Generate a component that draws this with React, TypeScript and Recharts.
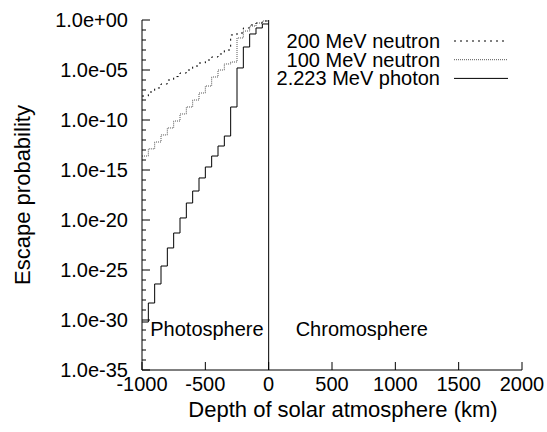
import { LineChart, Line, XAxis, YAxis, ReferenceLine, Legend } from "recharts"

// bin edges (km), 50 km bins; the last edge repeats the last bin value for the step line
const DEPTH = [
  -1000, -950, -900, -850, -800, -750, -700, -650, -600, -550,
  -500, -450, -400, -350, -300, -250, -200, -150, -100, -50, 0,
]

const NEUTRON_200 = [
  2.5e-8, 6.3e-8, 1.6e-7, 4.0e-7, 1.0e-6, 2.2e-6, 5.0e-6, 1.0e-5, 2.5e-5, 5.0e-5,
  1.0e-4, 2.0e-4, 4.0e-4, 1.0e-3, 3.2e-2, 5.0e-2, 0.16, 0.32, 0.5, 0.8,
]

const NEUTRON_100 = [
  2.5e-14, 1.3e-13, 6.3e-13, 3.2e-12, 1.6e-11, 7.9e-11, 4.0e-10, 2.0e-9, 1.0e-8, 5.0e-8,
  2.5e-7, 2.0e-6, 1.0e-5, 4.0e-5, 6.3e-5, 1.6e-2, 7.9e-2, 0.25, 0.5, 0.8,
]

const PHOTON = [
  6.3e-31, 5.0e-29, 4.0e-27, 2.5e-25, 1.6e-23, 5.0e-22, 1.6e-20, 5.0e-19, 7.9e-18, 1.6e-16,
  2.0e-15, 2.5e-14, 2.5e-13, 2.5e-12, 2.0e-9, 1.6e-5, 2.0e-3, 4.0e-2, 0.16, 0.4,
]

const X_TICKS = [-1000, -500, 0, 500, 1000, 1500, 2000]
// one tick per decade, labelled every fifth
const Y_TICKS = Array.from({ length: 36 }, (_, i) => Number(`1e${i - 35}`))

const SERIES = [
  { key: "n200", name: "200 MeV neutron", values: NEUTRON_200, color: "#000", dash: "2 4" },
  { key: "n100", name: "100 MeV neutron", values: NEUTRON_100, color: "#555", dash: "1 1" },
  { key: "photon", name: "2.223 MeV photon", values: PHOTON, color: "#000", dash: undefined },
]

const data = DEPTH.map((depth, i) => {
  const row: Record<string, number> = { depth }
  SERIES.forEach((s) => {
    row[s.key] = s.values[Math.min(i, s.values.length - 1)]
  })
  return row
})

const FONT = '"Liberation Sans", Arial, Helvetica, sans-serif'
const W = 547
const H = 432
const PLOT = { left: 142, right: 522, top: 20, bottom: 370 }

function fmtExp(exp: number) {
  const sign = exp < 0 ? "-" : "+"
  return `1.0e${sign}${String(Math.abs(exp)).padStart(2, "0")}`
}

function YTick(props: any) {
  const { y, payload, side } = props
  const exp = Math.round(Math.log10(payload.value))
  const major = exp % 5 === 0
  const len = major ? 8 : 4
  if (side === "right") {
    return <line x1={PLOT.right} x2={PLOT.right - len} y1={y} y2={y} stroke="#000" />
  }
  return (
    <g>
      <line x1={PLOT.left} x2={PLOT.left + len} y1={y} y2={y} stroke="#000" />
      {major && (
        <text
          x={PLOT.left - 14}
          y={y}
          textAnchor="end"
          dominantBaseline="central"
          fontSize={20}
          fontFamily={FONT}
          fill="#000"
        >
          {fmtExp(exp)}
        </text>
      )}
    </g>
  )
}

function XTick(props: any) {
  const { x, payload, side } = props
  if (side === "top") {
    return <line x1={x} x2={x} y1={PLOT.top} y2={PLOT.top + 8} stroke="#000" />
  }
  return (
    <g>
      <line x1={x} x2={x} y1={PLOT.bottom} y2={PLOT.bottom - 8} stroke="#000" />
      <text
        x={x}
        y={PLOT.bottom + 14}
        textAnchor="middle"
        dominantBaseline="central"
        fontSize={20}
        fontFamily={FONT}
        fill="#000"
      >
        {payload.value}
      </text>
    </g>
  )
}

function RegionLabels(props: any) {
  const x = props.viewBox.x
  const base = PLOT.bottom - 34
  return (
    <g fontSize={20} fontFamily={FONT} fill="#000">
      <text x={x - 5} y={base} textAnchor="end">
        Photosphere
      </text>
      <text x={x + 27} y={base} textAnchor="start">
        Chromosphere
      </text>
    </g>
  )
}

function LegendBox() {
  return (
    <svg width={W} height={H} style={{ position: "absolute", left: 0, top: 0, pointerEvents: "none" }}>
      {SERIES.map((s, i) => {
        const y = 41 + i * 18.7
        return (
          <g key={s.key}>
            <text
              x={440}
              y={y}
              textAnchor="end"
              dominantBaseline="central"
              fontSize={20}
              fontFamily={FONT}
              fill="#000"
            >
              {s.name}
            </text>
            <line x1={454} x2={508} y1={y} y2={y} stroke={s.color} strokeDasharray={s.dash} />
          </g>
        )
      })}
    </svg>
  )
}

export default function App() {
  return (
    <div style={{ position: "absolute", left: 0, top: 0, background: "#fff" }}>
      <LineChart
        width={W}
        height={H}
        data={data}
        margin={{ top: PLOT.top, right: W - PLOT.right, left: 0, bottom: 0 }}
      >
        <XAxis
          xAxisId="bottom"
          dataKey="depth"
          type="number"
          domain={[-1000, 2000]}
          ticks={X_TICKS}
          interval={0}
          height={H - PLOT.bottom}
          axisLine={{ stroke: "#000" }}
          tickLine={false}
          tick={(p: any) => <XTick {...p} side="bottom" />}
          label={(p: any) => (
            <text
              x={343}
              y={p.viewBox.y + 39}
              textAnchor="middle"
              dominantBaseline="central"
              fontSize={22}
              fontFamily={FONT}
              fill="#000"
            >
              Depth of solar atmosphere (km)
            </text>
          )}
        />
        <XAxis
          xAxisId="top"
          dataKey="depth"
          type="number"
          orientation="top"
          domain={[-1000, 2000]}
          ticks={X_TICKS}
          interval={0}
          height={0}
          axisLine={{ stroke: "#000" }}
          tickLine={false}
          tick={(p: any) => <XTick {...p} side="top" />}
        />
        <YAxis
          yAxisId="left"
          type="number"
          scale="log"
          domain={[1e-35, 1]}
          allowDataOverflow
          ticks={Y_TICKS}
          interval={0}
          width={PLOT.left}
          axisLine={{ stroke: "#000" }}
          tickLine={false}
          tick={(p: any) => <YTick {...p} side="left" />}
          label={(p: any) => {
            const cx = 22
            const cy = p.viewBox.y + p.viewBox.height / 2
            return (
              <text
                x={cx}
                y={cy}
                transform={`rotate(-90 ${cx} ${cy})`}
                textAnchor="middle"
                dominantBaseline="central"
                fontSize={22}
                fontFamily={FONT}
                fill="#000"
              >
                Escape probability
              </text>
            )
          }}
        />
        <YAxis
          yAxisId="right"
          orientation="right"
          type="number"
          scale="log"
          domain={[1e-35, 1]}
          allowDataOverflow
          ticks={Y_TICKS}
          interval={0}
          width={0}
          axisLine={{ stroke: "#000" }}
          tickLine={false}
          tick={(p: any) => <YTick {...p} side="right" />}
        />
        <ReferenceLine
          xAxisId="bottom"
          yAxisId="left"
          x={0}
          stroke="#000"
          label={(p: any) => <RegionLabels {...p} />}
        />
        {SERIES.map((s) => (
          <Line
            key={s.key}
            xAxisId="bottom"
            yAxisId="left"
            dataKey={s.key}
            name={s.name}
            type="stepAfter"
            stroke={s.color}
            strokeWidth={1}
            strokeDasharray={s.dash}
            dot={false}
            isAnimationActive={false}
          />
        ))}
        <Legend
          layout="horizontal"
          verticalAlign="middle"
          align="center"
          wrapperStyle={{ left: 0, top: 0, width: W, height: H }}
          content={() => <LegendBox />}
        />
      </LineChart>
    </div>
  )
}
